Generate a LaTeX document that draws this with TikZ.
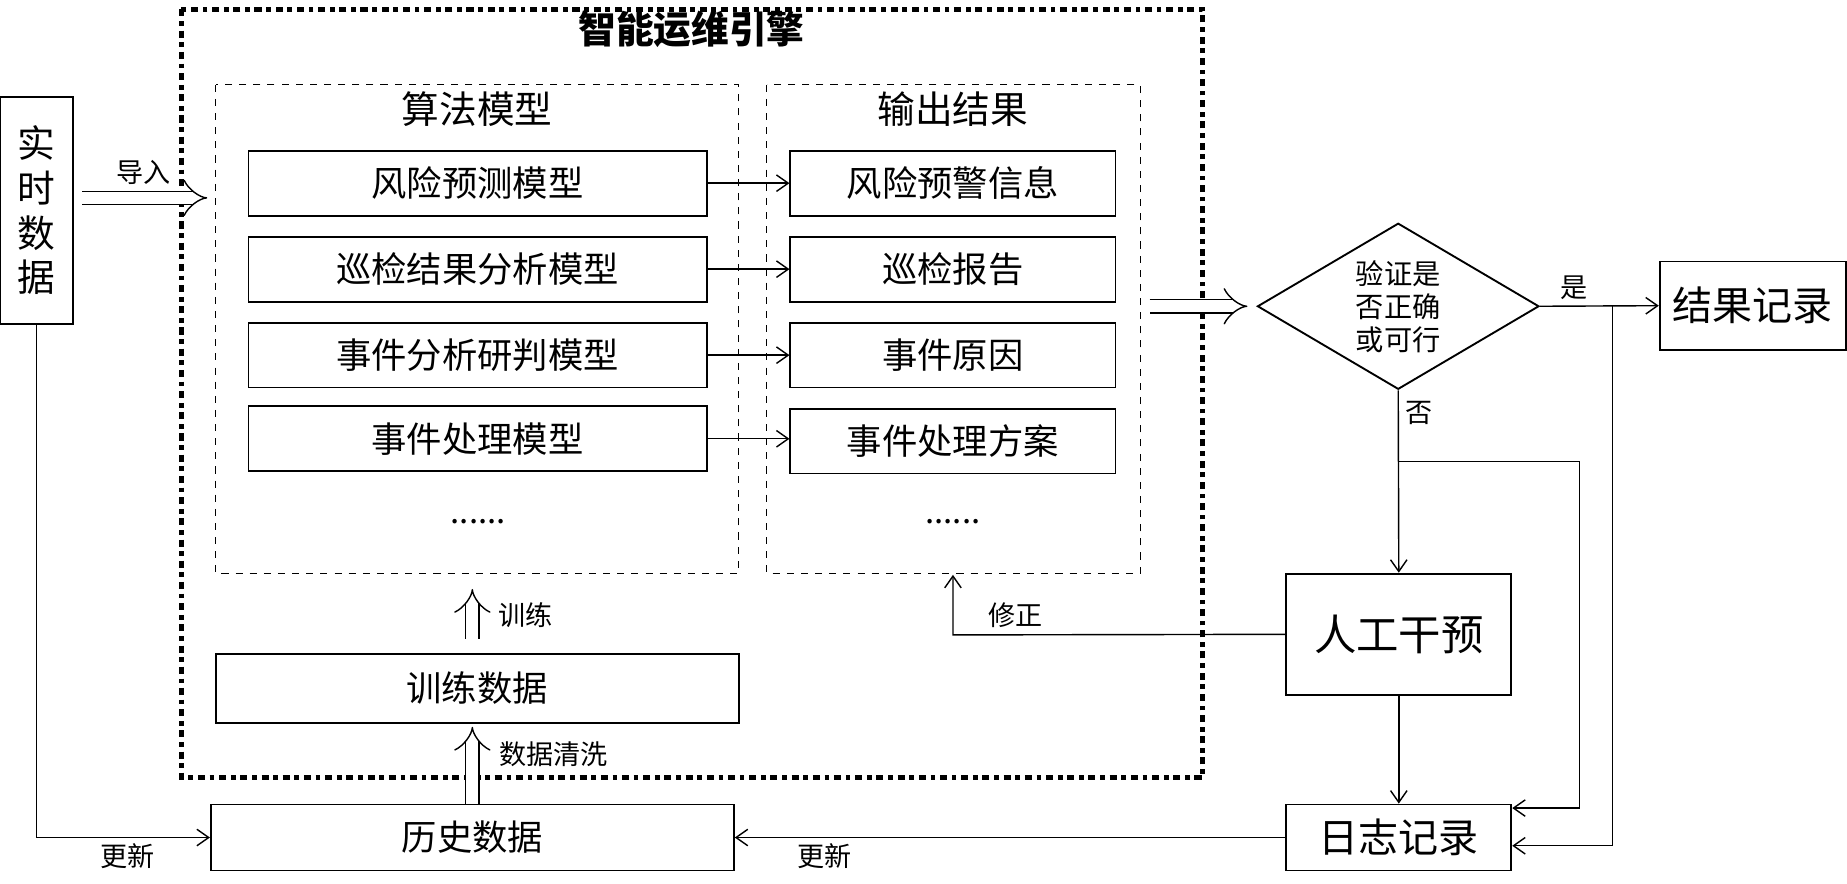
\documentclass[tikz,border=0pt]{standalone}
\usepackage{fontspec}
\setmainfont{Noto Sans CJK SC}
\usetikzlibrary{positioning,shapes.geometric,arrows.meta}

\tikzset{
  box/.style={draw, thick, minimum width=#1, minimum height=27.5pt, inner sep=0pt, font=\fontsize{15}{15}\selectfont},
  box/.default=194.5pt,
  grp/.style={draw, dashed, inner sep=0pt},
  arr/.style={-{Straight Barb[length=5pt,width=7pt]}, semithick},
  fat/.style={double, double distance=5pt, semithick, -{Implies[length=6pt]}},
  lab/.style={font=\fontsize{11.5}{11.5}\selectfont},
}

\begin{document}
\begin{tikzpicture}[x=0.5pt, y=-0.5pt]
\useasboundingbox (0,0) rectangle (1568,750);

% engine frame
\draw[line width=2pt, dash dot] (154,8) rectangle (1021,660);
\node[font=\bfseries\fontsize{16}{16}\selectfont] (title) at (587,25) {智能运维引擎};

% groups
\draw[grp] (183,72) rectangle (627,487);
\draw[grp] (651,72) rectangle (968,487);
\node[font=\fontsize{16}{16}\selectfont] (algo) at (405,93) {算法模型};
\node[font=\fontsize{16}{16}\selectfont] (outp) at (809,93) {输出结果};

% input
\node[draw, thick, minimum width=31pt, minimum height=96.5pt, align=center, inner sep=0pt,
  font=\fontsize{16}{19}\selectfont] (rt) at (31,178.5) {实\\时\\数\\据};
\coordinate (in1) at (70,168);
\coordinate (in2) at (176,168);
\draw[fat] (in1) -- (in2);
\node[lab] at (122,146) {导入};

% models and outputs
\node[box] (m1) at (405.5,155.5) {风险预测模型};
\node[box] (m2) at (405.5,228.5) {巡检结果分析模型};
\node[box] (m3) at (405.5,301.5) {事件分析研判模型};
\node[box] (m4) at (405.5,372.5) {事件处理模型};
\node[font=\fontsize{14}{14}\selectfont] at (406,443) {......};
\node[box=138pt] (o1) at (809,155.5) {风险预警信息};
\node[box=138pt] (o2) at (809,228.5) {巡检报告};
\node[box=138pt] (o3) at (809,301.5) {事件原因};
\node[box=138pt] (o4) at (809,374.5) {事件处理方案};
\node[font=\fontsize{14}{14}\selectfont] at (809,443) {......};
\foreach \i in {1,...,4}
  \draw[arr] (m\i) -- (m\i -| o\i.west);

% training
\node[box=222pt, minimum height=29.5pt] (train) at (405,584.5) {训练数据};
\node[box=222pt, minimum height=28pt] (hist) at (401,711) {历史数据};
\draw[fat] (train.north -| 401,0) ++(0,-12) -- (401,500);
\node[lab] at (446,522) {训练};
\draw[fat] (hist.north -| 401,0) -- (401,617);
\node[lab] at (470,640) {数据清洗};

% verification
\coordinate (v1) at (976,260);
\coordinate (v2) at (1059,260);
\draw[fat] (v1) -- (v2);
\node[draw, thick, diamond, minimum width=119.5pt, minimum height=70.5pt, inner sep=0pt, aspect=1.7,
  align=center, font=\fontsize{12}{14}\selectfont] (chk) at (1187,260) {验证是\\否正确\\或可行};
\node[box=79pt, minimum height=37.5pt, font=\fontsize{17}{17}\selectfont] (res) at (1488,259.5) {结果记录};
\node[box=95.5pt, minimum height=51.5pt, font=\fontsize{18}{18}\selectfont] (man) at (1187.5,538.5) {人工干预};
\node[box=95.5pt, minimum height=28pt, font=\fontsize{17}{17}\selectfont] (log) at (1187.5,711) {日志记录};

\draw[arr] (chk.east) -- (res.west);
\node[lab] at (1336,244) {是};
\draw[arr] (chk.south) -- (man.north);
\node[lab] at (1205,351) {否};
\draw[arr] (1187,392) -- (1341,392) -- (1341,686) -- (log.east |- 0,686);
\draw[arr] (1369,260) -- (1369,718) -- (log.east |- 0,718);
\draw[arr] (man) -- (log);

% feedback
\draw[arr] (man.west) -- (809,539) -- (809,488);
\node[lab] at (862,522) {修正};
\draw[arr] (log.west) -- (hist.east);
\node[lab] at (700,727) {更新};
\draw[arr] (rt.south) -- (31,711) -- (hist.west);
\node[lab] at (108,727) {更新};
\end{tikzpicture}
\end{document}
